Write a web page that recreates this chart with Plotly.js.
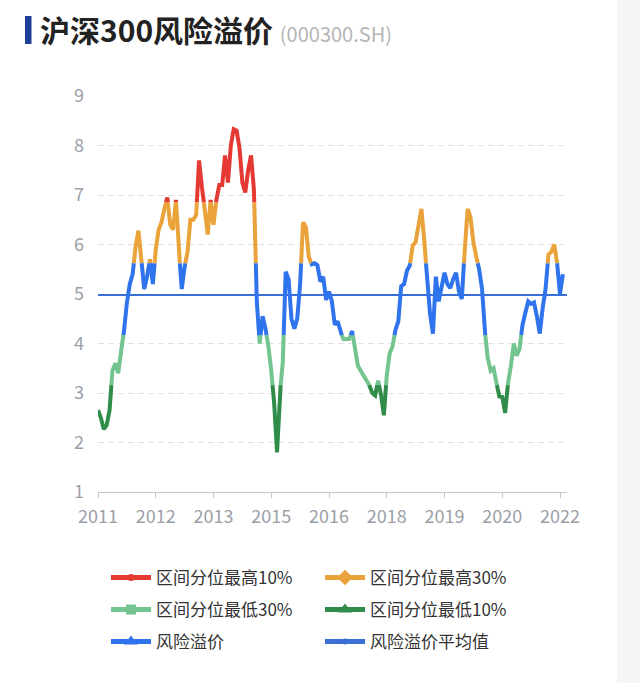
<!DOCTYPE html>
<html><head><meta charset="utf-8">
<script src="https://cdn.plot.ly/plotly-3.0.1.min.js"></script>
<style>html,body{margin:0;padding:0;background:#fff}#chart{width:640px;height:683px}</style>
</head><body><div id="chart"></div><script>
// ---- data ----
const tickLabels = ['2011','2012','2013','2015','2016','2018','2019','2020','2022'];
const tickEvery = 20; // samples between labelled ticks
const premium = [
 2.65,2.5,2.27,2.35,2.65,3.45,3.6,3.4,3.85,4.25,
 4.82,5.2,5.4,5.95,6.28,5.7,5.1,5.35,5.7,5.2,
 5.9,6.3,6.45,6.72,6.95,6.4,6.3,6.9,5.9,5.1,
 5.55,5.85,6.5,6.5,6.6,7.7,7.15,6.7,6.2,6.9,
 6.4,6.9,7.2,7.2,7.8,7.25,8.0,8.33,8.3,7.95,
 7.25,7.05,7.5,7.8,7.1,4.85,4.0,4.55,4.3,3.95,
 3.45,2.8,1.8,3.0,3.62,5.45,5.3,4.5,4.3,4.5,
 5.2,6.45,6.35,5.75,5.6,5.62,5.58,5.25,5.35,4.88,
 5.05,4.85,4.38,4.45,4.23,4.09,4.09,4.09,4.25,3.92,
 3.55,3.45,3.35,3.27,3.15,3.0,2.95,3.25,2.97,2.55,
 3.35,3.8,3.94,4.27,4.45,5.16,5.2,5.47,5.58,5.98,
 6.05,6.35,6.72,6.08,5.3,4.6,4.2,5.35,4.85,5.2,
 5.43,5.2,5.12,5.3,5.43,5.05,4.9,5.9,6.72,6.55,
 6.05,5.75,5.5,5.1,4.23,3.7,3.45,3.5,3.2,2.93,
 2.92,2.6,3.2,3.55,4.0,3.75,3.9,4.37,4.62,4.85,
 4.8,4.83,4.55,4.2,4.72,5.1,5.8,5.85,6.0,5.62,
 5.0,5.4
];
const meanValue = 4.98;
const bandNames = ['区间分位最高10%','区间分位最高30%','区间分位最低30%','区间分位最低10%','风险溢价'];
const bandLow  = [6.85, 5.62, 3.16, -100, 4.17];
const bandHigh = [100, 6.85, 4.17, 3.16, 5.62];
const bandColors = ['#e53a33','#eaa23a','#74c48f','#2f8d49','#2f74ec'];
const bandSymbols = ['circle','diamond','square','triangle-up','triangle-up'];
const bandSymbolSizes = [7,12,10,12,12];
const meanName = '风险溢价平均值';
const meanColor = '#3a6fd4';

// ---- build ----
const FONT = '"Noto Sans CJK SC","Noto Sans",sans-serif';
const xs = premium.map((_, i) => i);
const thresholds = [6.85, 5.62, 4.17, 3.16];
const rx = [xs[0]], ry = [premium[0]];
for (let i = 1; i < premium.length; i++) {
  const x0 = xs[i-1], y0 = premium[i-1], x1 = xs[i], y1 = premium[i];
  const cr = [];
  thresholds.forEach(t => {
    if ((y0 - t) * (y1 - t) < 0) { const f = (t - y0) / (y1 - y0); cr.push([x0 + f * (x1 - x0), t, f]); }
  });
  cr.sort((a, b) => a[2] - b[2]);
  cr.forEach(c => { rx.push(c[0]); ry.push(c[1]); });
  rx.push(x1); ry.push(y1);
}
const traces = [];
traces.push({x: [xs[0], xs[xs.length-1] + 1.5], y: [meanValue, meanValue], mode: 'lines',
  line: {color: meanColor, width: 2}, showlegend: false, hoverinfo: 'skip'});
bandNames.forEach((n, b) => {
  traces.push({x: rx, y: ry.map(v => (v >= bandLow[b] - 1e-9 && v <= bandHigh[b] + 1e-9) ? v : null),
    mode: 'lines', line: {color: bandColors[b], width: 4}, showlegend: false, hoverinfo: 'skip'});
});
const legendNames = bandNames.concat([meanName]);
const legendColors = bandColors.concat([meanColor]);
const legendSymbols = bandSymbols.concat(['circle']);
const legendSizes = bandSymbolSizes.concat([6]);
const legendIds = ['legend','legend2','legend3','legend4','legend5','legend6'];
legendNames.forEach((n, k) => {
  traces.push({x: [null], y: [null], name: n, mode: 'lines+markers', legend: legendIds[k],
    line: {color: legendColors[k], width: 5},
    marker: {color: legendColors[k], symbol: legendSymbols[k], size: legendSizes[k]}});
});

// legend placement (px -> paper)
const L = 98, T = 96, PW = 469, PH = 396;
const px2x = p => (p - L) / PW, py2y = p => (T + PH - p) / PH;
const colX = [106, 320], rowY = [578, 610, 642];
const layout = {
  width: 640, height: 683,
  margin: {l: L, r: 640 - L - PW, t: T, b: 683 - T - PH},
  paper_bgcolor: '#fff', plot_bgcolor: '#fff',
  font: {family: FONT, color: '#333'},
  title: {text: '<b>沪深300风险溢价</b> <span style="font-size:20px;color:#b5b5b5">(000300.SH)</span>',
    x: 40/640, xref: 'container', xanchor: 'left', y: 1 - 31/683, yref: 'container', yanchor: 'middle',
    font: {family: FONT, size: 30, color: '#222'}},
  xaxis: {range: [0, PW / 2.8875], tickvals: tickLabels.map((_, i) => i * tickEvery), ticktext: tickLabels,
    showgrid: false, zeroline: false, showline: true, linecolor: '#c4c7cc', linewidth: 1,
    ticks: 'outside', ticklen: 5, tickcolor: '#c4c7cc', ticklabelstandoff: 3,
    tickfont: {family: FONT, size: 18, color: '#9ba0a8'}},
  yaxis: {range: [1, 9], tickvals: [1,2,3,4,5,6,7,8,9], showline: false, zeroline: false,
    showgrid: true, gridcolor: '#e2e2e2', griddash: '6px,4px', ticklabelstandoff: 13,
    tickfont: {family: FONT, size: 18, color: '#9ba0a8'}},
  shapes: [
    {type: 'rect', xref: 'paper', yref: 'paper', x0: px2x(617), x1: px2x(660), y0: py2y(700), y1: py2y(-20),
      fillcolor: '#f5f5f7', line: {width: 0}, layer: 'below'},
    {type: 'rect', xref: 'paper', yref: 'paper', x0: px2x(25), x1: px2x(31.5), y0: py2y(44), y1: py2y(16),
      fillcolor: '#1d3f95', line: {width: 0}}
  ],
  showlegend: true
};
legendIds.forEach((id, k) => {
  layout[id] = {x: px2x(colX[k % 2]), y: py2y(rowY[Math.floor(k / 2)]), xanchor: 'left', yanchor: 'middle',
    orientation: 'v', bgcolor: 'rgba(0,0,0,0)', borderwidth: 0, itemwidth: 40,
    font: {family: FONT, size: 17, color: '#333'}};
});
Plotly.newPlot('chart', traces, layout, {staticPlot: true});
</script></body></html>
